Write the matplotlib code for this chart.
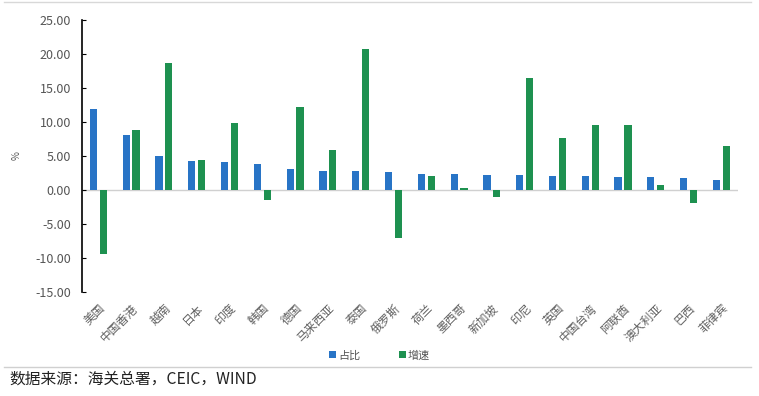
import matplotlib
matplotlib.use("Agg")
import matplotlib.pyplot as plt
import numpy as np
from matplotlib.ticker import FormatStrFormatter

plt.rcParams['font.family'] = ['Noto Sans CJK SC', 'DejaVu Sans']
plt.rcParams['axes.unicode_minus'] = False

categories = ['美国', '中国香港', '越南', '日本', '印度', '韩国', '德国', '马来西亚', '泰国', '俄罗斯',
              '荷兰', '墨西哥', '新加坡', '印尼', '英国', '中国台湾', '阿联酋', '澳大利亚', '巴西', '菲律宾']
share = [11.9, 8.1, 5.0, 4.3, 4.1, 3.85, 3.1, 2.8, 2.8, 2.6,
         2.4, 2.4, 2.2, 2.2, 2.1, 2.1, 1.9, 1.9, 1.8, 1.5]
growth = [-9.4, 8.85, 18.7, 4.4, 9.9, -1.5, 12.2, 5.9, 20.8, -7.0,
          2.1, 0.3, -1.1, 16.5, 7.7, 9.6, 9.5, 0.8, -1.9, 6.4]
yticks = [-15, -10, -5, 0, 5, 10, 15, 20, 25]

blue = '#2874C6'
green = '#1E9150'

fig = plt.figure(figsize=(7.59, 3.96), dpi=100)
ax = fig.add_axes([0.108, 0.2626, 0.864, 0.687])

x = np.arange(len(categories))
w = 0.22
ax.bar(x - 0.15, share, w, color=blue, label='占比')
ax.bar(x + 0.15, growth, w, color=green, label='增速')

ax.set_xlim(-0.5, len(categories) - 0.5)
ax.set_ylim(-15, 25)
ax.set_yticks(yticks)
ax.yaxis.set_major_formatter(FormatStrFormatter('%.2f'))
ax.axhline(0, color='#D0D0D0', lw=1, zorder=0)

for s in ['top', 'right', 'bottom']:
    ax.spines[s].set_visible(False)
ax.spines['left'].set_color('black')
ax.spines['left'].set_linewidth(1.2)

ax.tick_params(axis='y', direction='in', length=3, labelsize=9, labelcolor='#555555', color='black', pad=8)
ax.tick_params(axis='x', length=0, pad=7)
ax.set_xticks(x)
ax.set_xticklabels(categories, rotation=45, ha='right', rotation_mode='anchor',
                   fontsize=8.5, color='#606060')
ax.set_ylabel('%', fontsize=7, color='#555555', labelpad=10)

fig.legend(loc='center', bbox_to_anchor=(0.5, 0.103), ncol=2, frameon=False,
           fontsize=8, handlelength=0.6, handleheight=0.6, handletextpad=0.2,
           columnspacing=3.5, labelcolor='#555555')

# frame lines
fig.add_artist(plt.Line2D([0.005, 0.99], [0.995, 0.995], color='#D8D8D8', lw=1, transform=fig.transFigure))
fig.add_artist(plt.Line2D([0.005, 0.99], [0.073, 0.073], color='#D0D0D0', lw=1, transform=fig.transFigure))
fig.text(0.012, 0.042, '数据来源：海关总署，CEIC，WIND', fontsize=11.3, color='#222222', va='center')

fig.savefig('out.png', dpi=100, facecolor='white')
